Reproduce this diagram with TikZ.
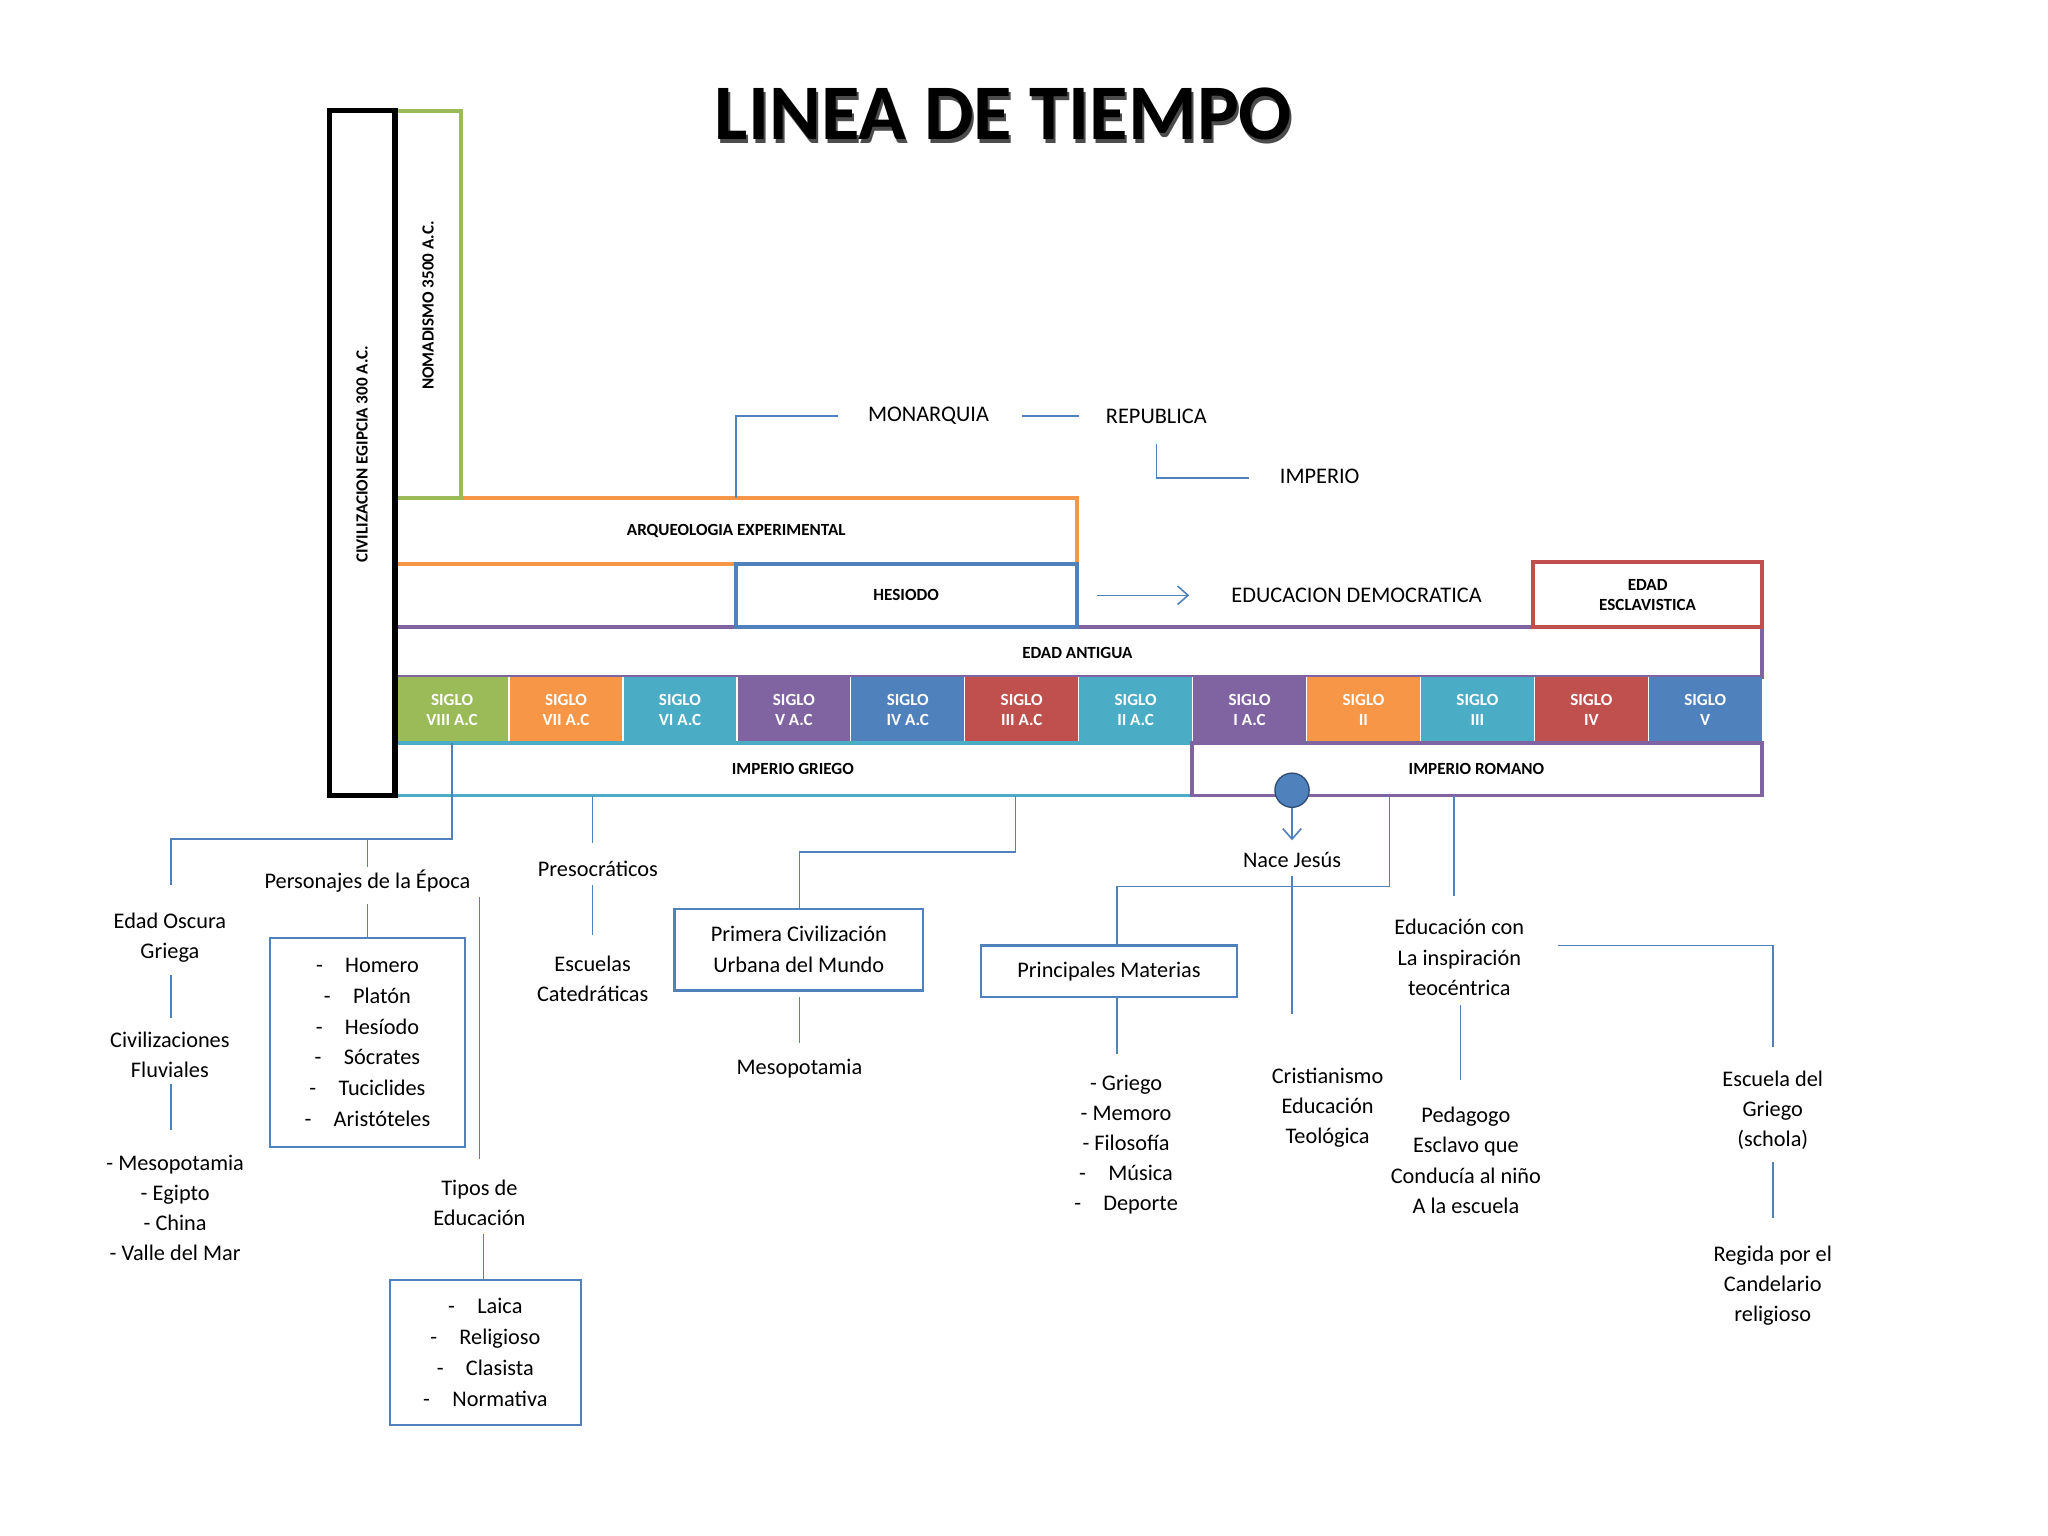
\documentclass[tikz,border=0pt]{standalone}
\usepackage{fontspec}
\usetikzlibrary{arrows.meta}
\setmainfont{Carlito}
\definecolor{cgreen}{HTML}{9BBB59}
\definecolor{corange}{HTML}{F79646}
\definecolor{caqua}{HTML}{4BACC6}
\definecolor{cpurple}{HTML}{8064A2}
\definecolor{cblue}{HTML}{4F81BD}
\definecolor{cred}{HTML}{C0504D}
\definecolor{lnk}{HTML}{4F81BD}
\begin{document}
\begin{tikzpicture}[x=1bp,y=-1bp,
  bx/.style={line width=3pt},
  lbl/.style={font=\fontsize{13}{15}\selectfont\bfseries},
  txt/.style={font=\fontsize{17}{23}\selectfont,align=center,inner sep=1pt},
  ln/.style={draw=lnk,line width=1.2pt},
  lbox/.style={draw=lnk,line width=1.8pt,align=center,font=\fontsize{17}{23.5}\selectfont}]
\useasboundingbox[fill=white] (0,0) rectangle (1555,1166);
\node (title) at (762,88) {\fontsize{60}{60}\selectfont\bfseries\color{black!70}\makebox[0pt]{\hspace{3bp}\raisebox{-3bp}{LINEA DE TIEMPO}}\makebox[0pt]{\color{black}LINEA DE TIEMPO}};
% stacked boxes
\draw[bx,draw=cpurple] (300,476) rectangle (1338,514);
\node[lbl] (ea) at (818,496) {EDAD ANTIGUA};
\draw[bx,draw=corange] (300,378) rectangle (818,428);
\node[lbl] (arq) at (559,403) {ARQUEOLOGIA EXPERIMENTAL};
\draw[bx,draw=cblue] (559,428) rectangle (818,476);
\node[lbl] (hes) at (688,452) {HESIODO};
\draw[bx,draw=cgreen] (300,84) rectangle (350,378);
\node[lbl,rotate=90] (nom) at (325,232) {NOMADISMO 3500 A.C.};
\draw[bx,draw=cred] (1164,427) rectangle (1338,476);
\node[lbl,align=center] (esc) at (1251,452) {EDAD\\ESCLAVISTICA};
% siglos
\foreach \i/\c/\t in {0/cgreen/VIII A.C,1/corange/VII A.C,2/caqua/VI A.C,3/cpurple/V A.C,4/cblue/IV A.C,5/cred/III A.C,6/caqua/II A.C,7/cpurple/I A.C,8/corange/II,9/caqua/III,10/cred/IV,11/cblue/V}{
  \fill[\c] ({300+\i*86.5},514) rectangle ({300+(\i+1)*86.5},564);
  \draw[white,line width=1pt] ({300+\i*86.5},514) -- ({300+\i*86.5},564);
  \node[lbl,text=white,align=center] (s\i) at ({343.25+\i*86.5},539) {SIGLO\\\t};
}
\draw[bx,draw=caqua] (300,564) rectangle (905,604);
\node[lbl] (ig) at (602,584) {IMPERIO GRIEGO};
\draw[bx,draw=cpurple] (905,564) rectangle (1338,604);
\node[lbl] (ir) at (1121,584) {IMPERIO ROMANO};
\draw[line width=4pt] (250,84) rectangle (300,604);
\node[lbl,rotate=90] (egi) at (275,345) {CIVILIZACION EGIPCIA 300 A.C.};
% top labels
\node[txt] (mon) at (705,316) {MONARQUIA};
\node[txt] (rep) at (878,316) {REPUBLICA};
\node[txt] (imp) at (1002,362) {IMPERIO};
\draw[ln] (559,378) -- (559,316) -- (636,316);
\draw[ln] (776,316) -- (819,316);
\draw[ln] (878,337) -- (878,363) -- (948,363);
\node[txt] (edem) at (1030,452) {EDUCACION DEMOCRATICA};
\draw[ln,-{Straight Barb[length=8bp,width=14bp]}] (833,452) -- (903,452);
% Nace Jesus
\node[txt] (nj) at (981,653) {Nace Jesús};
\draw[ln,-{Straight Barb[length=8bp,width=14bp]}] (981,605) -- (981,638);
\node[circle,fill=cblue,draw=cblue!60!black,line width=1pt,minimum size=26bp,inner sep=0] (circ) at (981,600) {};
% left tree
\node[txt] (per) at (279,669) {Personajes de la Época};
\node[txt] (eog) at (129,712) {Edad Oscura\\Griega};
\node[txt] (civ) at (129,801) {Civilizaciones\\Fluviales};
\node[txt] (mes1) at (133,917) {- Mesopotamia\\- Egipto\\- China\\- Valle del Mar};
\draw[ln] (343,564) -- (343,637) -- (130,637) -- (130,672);
\draw[ln] (279,637) -- (279,658);
\draw[ln] (279,686) -- (279,712);
\node[lbox,minimum width=148bp,minimum height=159bp] (box1) at (279,791.5) {-\quad Homero\\-\quad Platón\\-\quad Hesíodo\\-\quad Sócrates\\-\quad Tuciclides\\-\quad Aristóteles};
\draw[ln] (130,740) -- (130,773);
\draw[ln] (130,823) -- (130,858);
\draw[ln] (364,681) -- (364,880);
\node[txt] (tip) at (364,913) {Tipos de\\Educación};
\draw[ln] (367,937) -- (367,972);
\node[lbox,minimum width=145bp,minimum height=110bp] (box2) at (368.5,1027) {-\quad Laica\\-\quad Religioso\\-\quad Clasista\\-\quad Normativa};
% presocraticos
\draw[ln] (450,604) -- (450,640);
\node[txt] (pre) at (454,660) {Presocráticos};
\draw[ln] (450,672) -- (450,710);
\node[txt] (escu) at (450,743) {Escuelas\\Catedráticas};
\draw[ln] (771,604) -- (771,647) -- (607,647) -- (607,690);
\node[lbox,minimum width=189bp,minimum height=62bp] (box3) at (606.5,721) {Primera Civilización\\Urbana del Mundo};
\draw[ln] (607,757) -- (607,792);
\node[txt] (mes2) at (607,811) {Mesopotamia};
% romano
\draw[ln] (1055,604) -- (1055,673) -- (848,673) -- (848,718);
\node[lbox,minimum width=194bp,minimum height=39bp] (box4) at (842,737.5) {Principales Materias};
\draw[ln] (848,757) -- (848,800);
\node[txt] (mat) at (855,869) {- Griego\\- Memoro\\- Filosofía\\-\quad Música\\-\quad Deporte};
\draw[ln] (981,665) -- (981,770);
\node[txt] (cri) at (1008,841) {Cristianismo\\Educación\\Teológica};
\draw[ln] (1104,604) -- (1104,680);
\node[txt] (edc) at (1108,727) {Educación con\\La inspiración\\teocéntrica};
\draw[ln] (1109,763) -- (1109,820);
\node[txt] (ped) at (1113,881) {Pedagogo\\Esclavo que\\Conducía al niño\\A la escuela};
\draw[ln] (1183,718) -- (1346,718) -- (1346,795);
\node[txt] (escg) at (1346,843) {Escuela del\\Griego\\(schola)};
\draw[ln] (1346,882) -- (1346,925);
\node[txt] (reg) at (1346,976) {Regida por el\\Candelario\\religioso};
\end{tikzpicture}
\end{document}
